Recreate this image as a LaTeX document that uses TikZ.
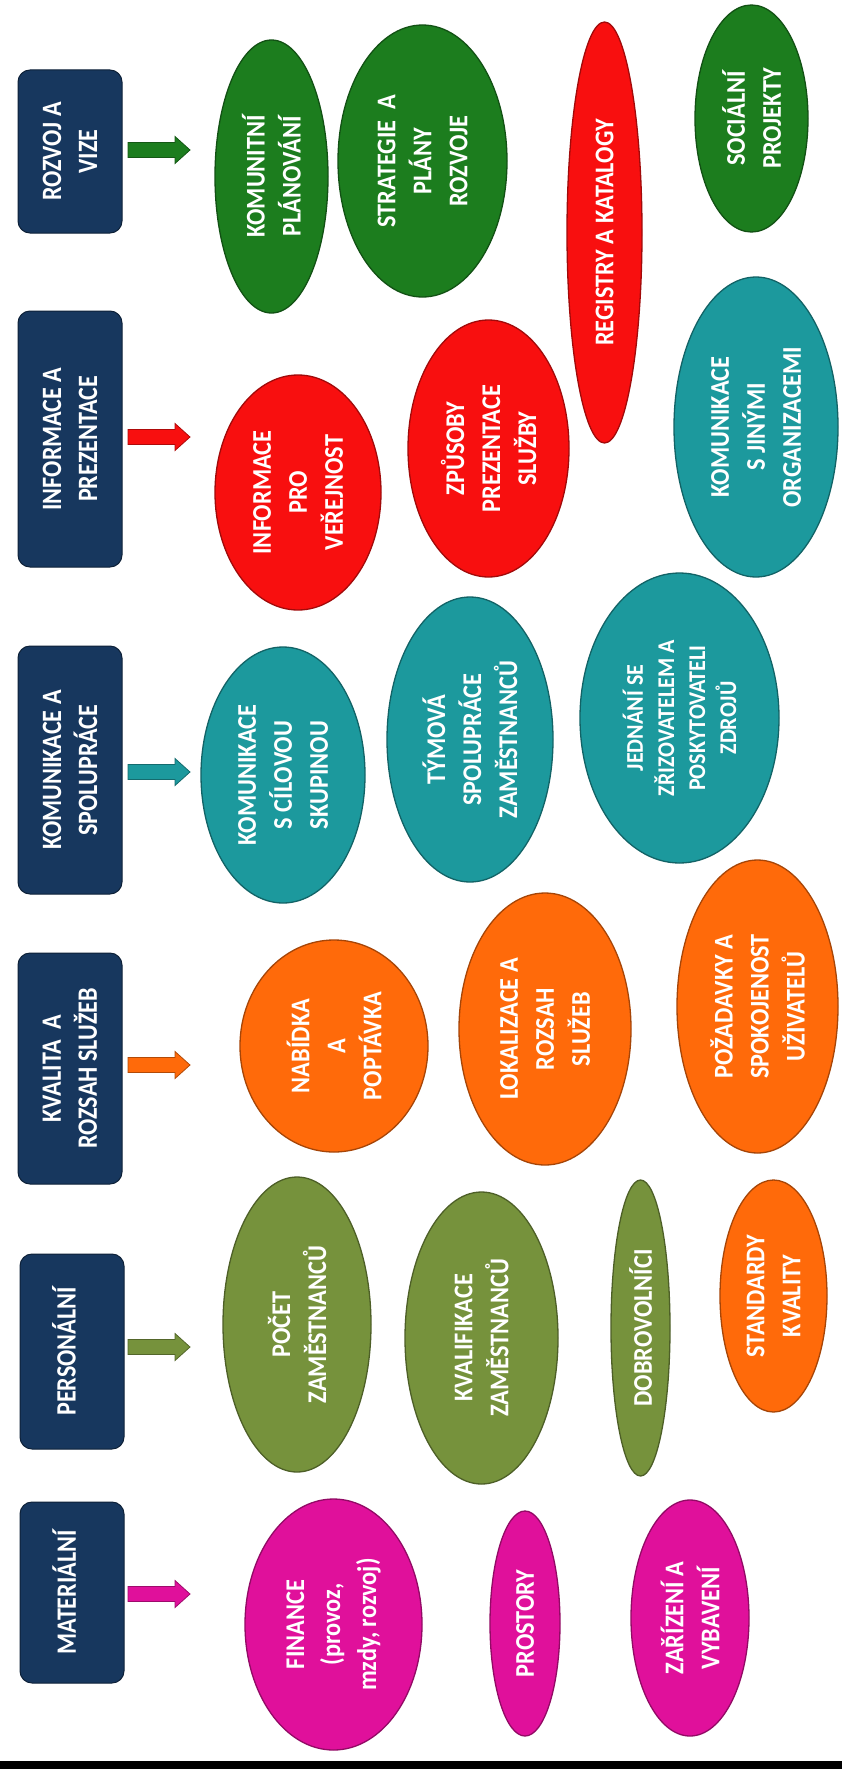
\documentclass[tikz,border=0pt]{standalone}
\usepackage{fontspec}
\setmainfont{Carlito}
\usetikzlibrary{shapes.geometric}
\definecolor{navy}{HTML}{17375E}
\definecolor{cgreen}{HTML}{1C7D1E}
\definecolor{cred}{HTML}{F80F0F}
\definecolor{cteal}{HTML}{1C999D}
\definecolor{corange}{HTML}{FF6A0A}
\definecolor{colive}{HTML}{76923C}
\definecolor{cmag}{HTML}{E0109B}
\begin{document}
\begin{tikzpicture}[x=1pt,y=-1pt,
  hdr/.style={draw=navy!60!black, line width=1pt, fill=navy, rounded corners=12pt,
    minimum width=104pt, inner sep=0pt},
  htxt/.style={rotate=90, xscale=0.86, text=white, align=center, font=\bfseries\fontsize{28}{36}\selectfont},
  ell/.style={ellipse, draw=#1!65!black, line width=1.3pt, fill=#1, inner sep=0pt},
  etxt/.style={rotate=90, xscale=0.9, text=white, align=center, font=\bfseries\fontsize{27}{36}\selectfont},
  barrow/.style={fill=#1, draw=#1!70!black, line width=0.8pt}
]
\useasboundingbox (0,0) rectangle (842,1769);
\fill[white] (0,0) rectangle (842,1769);

% header boxes
\node[hdr, minimum height=163pt] (r1) at (70,151.5) {};
\node[hdr, minimum height=256pt] (r2) at (70,439) {};
\node[hdr, minimum height=248pt] (r3) at (70,770) {};
\node[hdr, minimum height=231pt] (r4) at (70,1068.5) {};
\node[hdr, minimum height=195pt] (r5) at (72,1351.5) {};
\node[hdr, minimum height=181pt] (r6) at (72,1592.5) {};
\node[htxt] (t1) at (r1) {ROZVOJ A\\VIZE};
\node[htxt] (t2) at (r2) {INFORMACE A\\PREZENTACE};
\node[htxt] (t3) at (r3) {KOMUNIKACE A\\SPOLUPRÁCE};
\node[htxt] (t4) at (r4) {KVALITA\ \ A\\ROZSAH SLUŽEB};
\node[htxt] (t5) at ([xshift=-8pt]r5.center) {PERSONÁLNÍ};
\node[htxt] (t6) at ([xshift=-8pt]r6.center) {MATERIÁLNÍ};

% block arrows
\newcommand\blockarr[2]{%
  \filldraw[barrow=#2] (#1) ++(0,-7.5) -- ++(47,0) -- ++(0,-6) -- ++(15,13.5) -- ++(-15,13.5) -- ++(0,-6) -- ++(-47,0) -- cycle;}
\coordinate (a1) at (128,150);
\coordinate (a2) at (128,437);
\coordinate (a3) at (128,772);
\coordinate (a4) at (128,1065);
\coordinate (a5) at (128,1347);
\coordinate (a6) at (128,1594);
\blockarr{a1}{cgreen}
\blockarr{a2}{cred}
\blockarr{a3}{cteal}
\blockarr{a4}{corange}
\blockarr{a5}{colive}
\blockarr{a6}{cmag}

% column 1 : rozvoj a vize
\node[ell=cgreen, minimum width=113pt, minimum height=273pt] (e11) at (271.5,176.5) {};
\node[ell=cgreen, minimum width=169pt, minimum height=272pt] (e12) at (422.5,161) {};
\node[ell=cred, minimum width=75pt, minimum height=421pt] (e13) at (604.5,232.5) {};
\node[ell=cgreen, minimum width=113pt, minimum height=227pt] (e14) at (751.5,118.5) {};
\node[etxt] at (e11) {KOMUNITNÍ\\PLÁNOVÁNÍ};
\node[etxt] at (e12) {STRATEGIE\ \ A\\PLÁNY\\ROZVOJE};
\node[etxt] at (e13) {REGISTRY A KATALOGY};
\node[etxt] at (e14) {SOCIÁLNÍ\\PROJEKTY};

% column 2 : informace a prezentace
\node[ell=cred, minimum width=166pt, minimum height=235pt] (e21) at (298,492.5) {};
\node[ell=cred, minimum width=161pt, minimum height=257pt] (e22) at (488.5,448.5) {};
\node[ell=cteal, minimum width=164pt, minimum height=300pt] (e23) at (756,427) {};
\node[etxt] at (e21) {INFORMACE\\PRO\\VEŘEJNOST};
\node[etxt] at (e22) {ZPŮSOBY\\PREZENTACE\\SLUŽBY};
\node[etxt] at (e23) {KOMUNIKACE\\S JINÝMI\\ORGANIZACEMI};

% column 3 : komunikace a spoluprace
\node[ell=cteal, minimum width=164pt, minimum height=256pt] (e31) at (283,775) {};
\node[ell=cteal, minimum width=166pt, minimum height=285pt] (e32) at (470,739.5) {};
\node[ell=cteal, minimum width=199pt, minimum height=290pt] (e33) at (679.5,718) {};
\node[etxt] at (e31) {KOMUNIKACE\\S CÍLOVOU\\SKUPINOU};
\node[etxt] at (e32) {TÝMOVÁ\\SPOLUPRÁCE\\ZAMĚSTNANCŮ};
\node[etxt, xscale=1.02, font=\bfseries\fontsize{24}{31}\selectfont] at (e33) {JEDNÁNÍ SE\\ZŘIZOVATELEM A\\POSKYTOVATELI\\ZDROJŮ};

% column 4 : kvalita a rozsah sluzeb
\node[ell=corange, minimum width=188pt, minimum height=212pt] (e41) at (334,1046) {};
\node[ell=corange, minimum width=172pt, minimum height=272pt] (e42) at (545,1029) {};
\node[ell=corange, minimum width=161pt, minimum height=293pt] (e43) at (757.5,1006.5) {};
\node[etxt] at (e41) {NABÍDKA\\A\\POPTÁVKA};
\node[etxt] at (e42) {LOKALIZACE A\\ROZSAH\\SLUŽEB};
\node[etxt] at (e43) {POŽADAVKY A\\SPOKOJENOST\\UŽIVATELŮ};

% column 5 : personalni
\node[ell=colive, minimum width=148pt, minimum height=295pt] (e51) at (297,1324.5) {};
\node[ell=colive, minimum width=153pt, minimum height=292pt] (e52) at (481.5,1338) {};
\node[ell=colive, minimum width=59pt, minimum height=296pt] (e53) at (640.5,1328) {};
\node[ell=corange, minimum width=107pt, minimum height=232pt] (e54) at (773.5,1296) {};
\node[etxt] at (e51) {POČET\\ZAMĚSTNANCŮ};
\node[etxt] at (e52) {KVALIFIKACE\\ZAMĚSTNANCŮ};
\node[etxt] at (e53) {DOBROVOLNÍCI};
\node[etxt] at (e54) {STANDARDY\\KVALITY};

% column 6 : materialni
\node[ell=cmag, minimum width=177pt, minimum height=251pt] (e61) at (333.5,1624.5) {};
\node[ell=cmag, minimum width=70pt, minimum height=225pt] (e62) at (525,1623.5) {};
\node[ell=cmag, minimum width=118pt, minimum height=236pt] (e63) at (690,1618) {};
\node[etxt] at (e61) {FINANCE\\(provoz,\\mzdy, rozvoj)};
\node[etxt] at (e62) {PROSTORY};
\node[etxt] at (e63) {ZAŘÍZENÍ A\\VYBAVENÍ};

% bottom bar
\fill[black] (0,1761) rectangle (842,1769);
\end{tikzpicture}
\end{document}
